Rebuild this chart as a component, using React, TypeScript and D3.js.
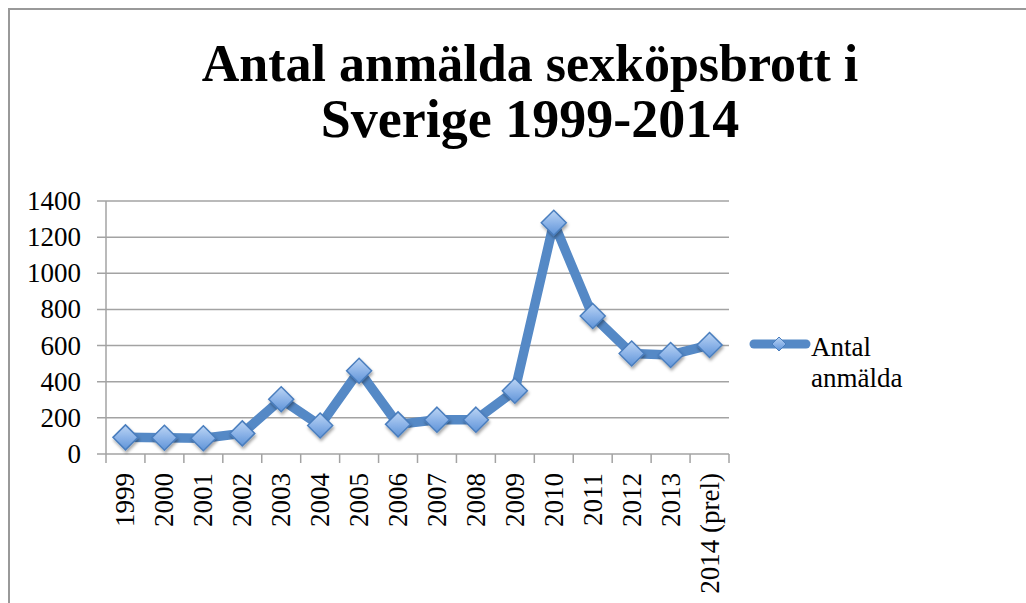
import React from "react";
import * as d3 from "d3";

const categories = ["1999","2000","2001","2002","2003","2004","2005","2006","2007","2008","2009","2010","2011","2012","2013","2014 (prel)"];
const values = [92, 90, 87, 114, 303, 158, 461, 164, 190, 190, 350, 1280, 764, 556, 548, 603];
const yTicks = [0, 200, 400, 600, 800, 1000, 1200, 1400];
const titleLines = ["Antal anmälda sexköpsbrott i", "Sverige 1999-2014"];
const legendLines = ["Antal", "anmälda"];

const FONT = "'Liberation Serif', 'Times New Roman', serif";
const GRID = "#A3A3A3";
const LINE = "#5589C6";

export default function App() {
  const W = 1026, H = 603;
  const x = d3.scaleBand<string>().domain(categories).range([106, 729]).padding(0);
  const y = d3.scaleLinear().domain([0, 1400]).range([454, 201]);
  const cx = (c: string) => (x(c) as number) + x.bandwidth() / 2;
  const line = d3.line<number>().x((_, i) => cx(categories[i])).y(d => y(d));
  const r = 12.5;
  const diamond = (px: number, py: number, s: number) => `M${px},${py - s}L${px + s},${py}L${px},${py + s}L${px - s},${py}Z`;
  const boundaries = categories.map(c => x(c) as number).concat([x.range()[1]]);

  return (
    <svg width={W} height={H} style={{ position: "absolute", left: 0, top: 0, background: "#fff" }} fontFamily={FONT}>
      <defs>
        <linearGradient id="mk" x1="0" y1="0" x2="0" y2="1">
          <stop offset="0" stopColor="#BCD5F4" />
          <stop offset="0.5" stopColor="#8DB4E8" />
          <stop offset="1" stopColor="#5F94D8" />
        </linearGradient>
        <filter id="sh" x="-50%" y="-50%" width="200%" height="200%">
          <feDropShadow dx="1" dy="2.5" stdDeviation="1.6" floodColor="#000" floodOpacity="0.35" />
        </filter>
      </defs>
      <rect x={0} y={0} width={W} height={H} fill="#fff" />
      {/* chart frame */}
      <line x1={8} x2={W} y1={9} y2={9} stroke="#999" strokeWidth={2} />
      <line x1={9} x2={9} y1={8} y2={H} stroke="#999" strokeWidth={2} />

      {/* title */}
      <text x={530} y={81} textAnchor="middle" fontWeight="bold" fontSize={52} fill="#000">{titleLines[0]}</text>
      <text x={530} y={137} textAnchor="middle" fontWeight="bold" fontSize={54} fill="#000">{titleLines[1]}</text>

      {/* gridlines + y ticks */}
      {yTicks.map(t => (
        <g key={t}>
          <line x1={97} x2={729} y1={y(t)} y2={y(t)} stroke={GRID} strokeWidth={1.5} />
          <text x={81} y={y(t) + 9} textAnchor="end" fontSize={27} fill="#000">{t}</text>
        </g>
      ))}
      {/* y axis */}
      <line x1={106} x2={106} y1={y(1400)} y2={y(0)} stroke={GRID} strokeWidth={1.5} />
      {/* x ticks */}
      {boundaries.map((b, i) => (
        <line key={i} x1={b} x2={b} y1={y(0)} y2={y(0) + 9} stroke={GRID} strokeWidth={1.5} />
      ))}
      {/* x labels */}
      {categories.map(c => (
        <text key={c} transform={`translate(${cx(c) + 9},473) rotate(-90)`} textAnchor="end" fontSize={27} fill="#000">{c}</text>
      ))}

      {/* series */}
      <path d={line(values) || ""} fill="none" stroke={LINE} strokeWidth={9.5} strokeLinejoin="round" strokeLinecap="round" />
      {values.map((v, i) => (
        <path key={i} d={diamond(cx(categories[i]), y(v), r)} fill="url(#mk)" stroke="#4A7EBE" strokeWidth={1.5} filter="url(#sh)" />
      ))}

      {/* legend */}
      <line x1={754} x2={806} y1={344} y2={344} stroke={LINE} strokeWidth={9} strokeLinecap="round" />
      <path d={diamond(779, 344, 7)} fill="url(#mk)" stroke="#4A7EBE" strokeWidth={1} />
      {legendLines.map((t, i) => (
        <text key={i} x={811} y={356 + i * 31} fontSize={27} fill="#000">{t}</text>
      ))}
    </svg>
  );
}
